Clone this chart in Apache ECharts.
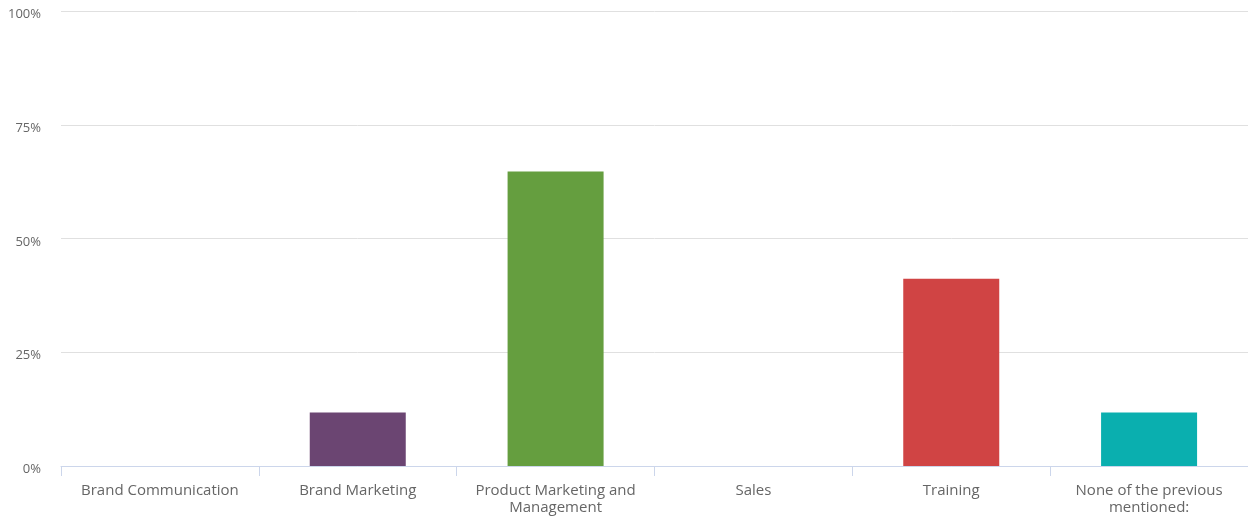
<!DOCTYPE html>
<html>
<head>
<meta charset="utf-8">
<script src="https://cdn.jsdelivr.net/npm/echarts@6/dist/echarts.min.js"></script>
<style>
  html, body { margin: 0; padding: 0; background: #ffffff; }
  #chart { width: 1248px; height: 522px; }
</style>
</head>
<body>
<div id="chart"></div>
<script>
// Share of respondents per area (percent)
const categories = [
  'Brand Communication',
  'Brand Marketing',
  'Product Marketing and\nManagement',
  'Sales',
  'Training',
  'None of the previous\nmentioned:'
];
const values = [0, 11.76, 64.71, 0, 41.18, 11.76];
const barColors = ['#7cb5ec', '#6b4572', '#659e3f', '#8085e9', '#d04444', '#0aafaf'];
const yTicks = [0, 25, 50, 75, 100];

const chart = echarts.init(document.getElementById('chart'), null, { renderer: 'canvas' });

chart.setOption({
  animation: false,
  grid: { left: 61, width: 1191, top: 11, bottom: 56, containLabel: false },
  xAxis: {
    type: 'category',
    data: categories,
    axisLine: { show: true, lineStyle: { color: '#ccd6eb', width: 1 } },
    axisTick: { show: true, length: 10, lineStyle: { color: '#ccd6eb' } },
    axisLabel: {
      color: '#666666',
      fontFamily: 'Open Sans',
      fontSize: 15,
      lineHeight: 17,
      margin: 16,
      interval: 0
    },
    splitLine: { show: false }
  },
  yAxis: {
    type: 'value',
    min: yTicks[0],
    max: yTicks[yTicks.length - 1],
    interval: 25,
    axisLine: { show: false },
    axisTick: { show: false },
    axisLabel: {
      margin: 20,
      formatter: v => '{t|' + v + '%}',
      rich: {
        t: {
          color: '#666666',
          fontFamily: 'Open Sans',
          fontSize: 13,
          padding: [7, 0, 0, 0]
        }
      }
    },
    splitLine: { lineStyle: { color: '#e0e0e0', width: 1 } }
  },
  series: [{
    type: 'bar',
    data: values.map((v, i) => ({ value: v, itemStyle: { color: barColors[i] } })),
    barWidth: 96,
    silent: true
  }]
});
</script>
</body>
</html>
